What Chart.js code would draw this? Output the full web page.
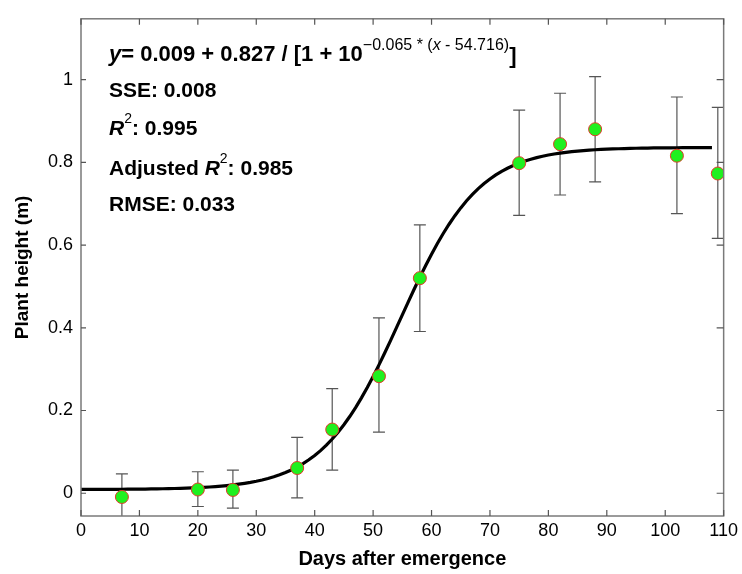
<!DOCTYPE html>
<html>
<head>
<meta charset="utf-8">
<script src="https://cdn.jsdelivr.net/npm/chart.js@4.4.1/dist/chart.umd.min.js"></script>
<style>
body { margin: 0; background: #fff; }
</style>
</head>
<body>
<canvas id="growth-chart" width="742" height="574"></canvas>
<script>
/* mediciones de altura de planta */
const days = [7, 20, 26, 37, 43, 51, 58, 75, 82, 88, 102, 109]
const heights = [-0.009, 0.009, 0.008, 0.061, 0.154, 0.283, 0.520, 0.798, 0.844, 0.880, 0.816, 0.773]
const barTop = [0.047, 0.052, 0.056, 0.135, 0.253, 0.424, 0.649, 0.926, 0.967, 1.007, 0.958, 0.933]
const barBottom = [-0.075, -0.032, -0.036, -0.011, 0.056, 0.148, 0.391, 0.672, 0.721, 0.753, 0.676, 0.616]

/* ajuste logistico: y = a + b / [1 + 10^(-k (x - x0))] */
const fitA = 0.009
const fitB = 0.827
const fitK = 0.065
const fitX0 = 54.716
const fitDays = []
for (let d = 0; d <= 108; d += 1) fitDays.push(d)

const xTicks = [0, 10, 20, 30, 40, 50, 60, 70, 80, 90, 100, 110]
const yTicks = [0, 0.2, 0.4, 0.6, 0.8, 1]

const fitCurve = fitDays.map(d => ({
    x: d,
    y: fitA + fitB / (1 + Math.pow(10, -fitK * (d - fitX0)))
}))
const measured = days.map((d, i) => ({ x: d, y: heights[i] }))

const FONT = "'Liberation Sans', Arial, sans-serif"

/* escribe trozos de texto con distinta fuente en una misma linea */
function drawRuns(ctx, x, y, runs) {
    for (const r of runs) {
        ctx.font = r.font
        ctx.fillText(r.text, x, y + (r.dy || 0))
        x += ctx.measureText(r.text).width
    }
}

const frameAndBars = {
    id: "frameAndBars",
    beforeDraw(chart) {
        const ctx = chart.ctx
        ctx.save()
        ctx.fillStyle = "#fff"
        ctx.fillRect(0, 0, chart.width, chart.height)
        ctx.restore()
    },
    beforeDatasetsDraw(chart) {
        const { ctx, chartArea, scales } = chart
        ctx.save()
        ctx.beginPath()
        ctx.rect(chartArea.left, chartArea.top, chartArea.right - chartArea.left, chartArea.bottom - chartArea.top)
        ctx.clip()
        ctx.strokeStyle = "#555"
        ctx.lineWidth = 1.2
        days.forEach((d, i) => {
            const px = scales.x.getPixelForValue(d)
            const t = scales.y.getPixelForValue(barTop[i])
            const b = scales.y.getPixelForValue(barBottom[i])
            ctx.beginPath()
            ctx.moveTo(px, t); ctx.lineTo(px, b)
            ctx.moveTo(px - 6, t); ctx.lineTo(px + 6, t)
            ctx.moveTo(px - 6, b); ctx.lineTo(px + 6, b)
            ctx.stroke()
        })
        ctx.restore()
    },
    afterDraw(chart) {
        const { ctx, chartArea, scales } = chart
        const { left, right, top, bottom } = chartArea
        ctx.save()
        // marco y marcas hacia adentro
        ctx.strokeStyle = "#7a7a7a"
        ctx.lineWidth = 1.5
        ctx.strokeRect(left, top, right - left, bottom - top)
        ctx.strokeStyle = "#555"
        ctx.lineWidth = 1.2
        ctx.beginPath()
        xTicks.forEach(v => {
            const px = scales.x.getPixelForValue(v)
            ctx.moveTo(px, bottom); ctx.lineTo(px, bottom - 6)
            ctx.moveTo(px, top); ctx.lineTo(px, top + 6)
        })
        yTicks.forEach(v => {
            const py = scales.y.getPixelForValue(v)
            ctx.moveTo(left, py); ctx.lineTo(left + 5, py)
            ctx.moveTo(right, py); ctx.lineTo(right - 7, py)
        })
        ctx.stroke()

        // ecuacion y estadisticos del ajuste
        ctx.fillStyle = "#000"
        ctx.textBaseline = "alphabetic"
        ctx.textAlign = "left"
        const bold = "bold 21px " + FONT
        const boldIt = "italic bold 21px " + FONT
        const boldEq = "bold 22px " + FONT
        const boldEqIt = "italic bold 22px " + FONT
        const sup = "16px " + FONT
        const supIt = "italic 16px " + FONT
        const sup2 = "14px " + FONT
        const x0 = 109
        drawRuns(ctx, x0, 61, [
            { text: "y", font: boldEqIt },
            { text: "= 0.009 + 0.827 / [1 + 10", font: boldEq },
            { text: "\u22120.065 * (", font: sup, dy: -11 },
            { text: "x", font: supIt, dy: -11 },
            { text: " - 54.716)", font: sup, dy: -11 },
            { text: "]", font: boldEq, dy: 2 },
        ])
        drawRuns(ctx, x0, 96.5, [{ text: "SSE: 0.008", font: bold }])
        drawRuns(ctx, x0, 135, [
            { text: "R", font: boldIt },
            { text: "2", font: sup2, dy: -12 },
            { text: ": 0.995", font: bold },
        ])
        drawRuns(ctx, x0, 174.5, [
            { text: "Adjusted ", font: bold },
            { text: "R", font: boldIt },
            { text: "2", font: sup2, dy: -12 },
            { text: ": 0.985", font: bold },
        ])
        drawRuns(ctx, x0, 211, [{ text: "RMSE: 0.033", font: bold }])
        ctx.restore()
    }
}

const contenedor = document.querySelector("#growth-chart").getContext("2d")

const growthChart = new Chart(contenedor, {
    type: "scatter",
    data: {
        datasets: [
            {
                label: "Measured",
                data: measured,
                order: 0,
                pointRadius: 6.5,
                pointHoverRadius: 6.5,
                pointBackgroundColor: "#1ff01f",
                pointBorderColor: "#e23a2a",
                pointBorderWidth: 1,
                showLine: false,
            },
            {
                label: "Fit",
                data: fitCurve,
                order: 1,
                showLine: true,
                borderColor: "#000",
                borderWidth: 3.2,
                pointRadius: 0,
                tension: 0,
                fill: false,
            },
        ]
    },
    options: {
        responsive: false,
        animation: false,
        devicePixelRatio: 1,
        layout: { padding: { top: 9, right: 17, bottom: 0, left: 0 } },
        plugins: {
            legend: { display: false },
            tooltip: { enabled: false },
        },
        scales: {
            x: {
                type: "linear",
                min: 0,
                max: 110,
                afterBuildTicks: s => { s.ticks = xTicks.map(v => ({ value: v })) },
                afterFit: s => { s.height = 58 },
                grid: { display: false, drawTicks: false },
                border: { display: false },
                ticks: {
                    padding: 4,
                    color: "#000",
                    font: { family: FONT, size: 18 },
                    maxRotation: 0,
                    callback: v => String(v),
                },
                title: {
                    display: true,
                    text: "Days after emergence",
                    color: "#000",
                    font: { family: FONT, size: 20, weight: "bold" },
                    padding: { top: 0, bottom: 3 },
                },
            },
            y: {
                type: "linear",
                min: -0.055,
                max: 1.147,
                afterBuildTicks: s => { s.ticks = yTicks.map(v => ({ value: v })) },
                afterFit: s => { s.width = 81 },
                grid: { display: false, drawTicks: false },
                border: { display: false },
                ticks: {
                    padding: 8,
                    color: "#000",
                    font: { family: FONT, size: 18 },
                    callback: v => String(Math.round(v * 10) / 10),
                },
                title: {
                    display: true,
                    text: "Plant height (m)",
                    color: "#000",
                    font: { family: FONT, size: 19, weight: "bold" },
                    padding: { top: 11, bottom: 0 },
                },
            },
        },
    },
    plugins: [frameAndBars],
})
</script>
</body>
</html>
